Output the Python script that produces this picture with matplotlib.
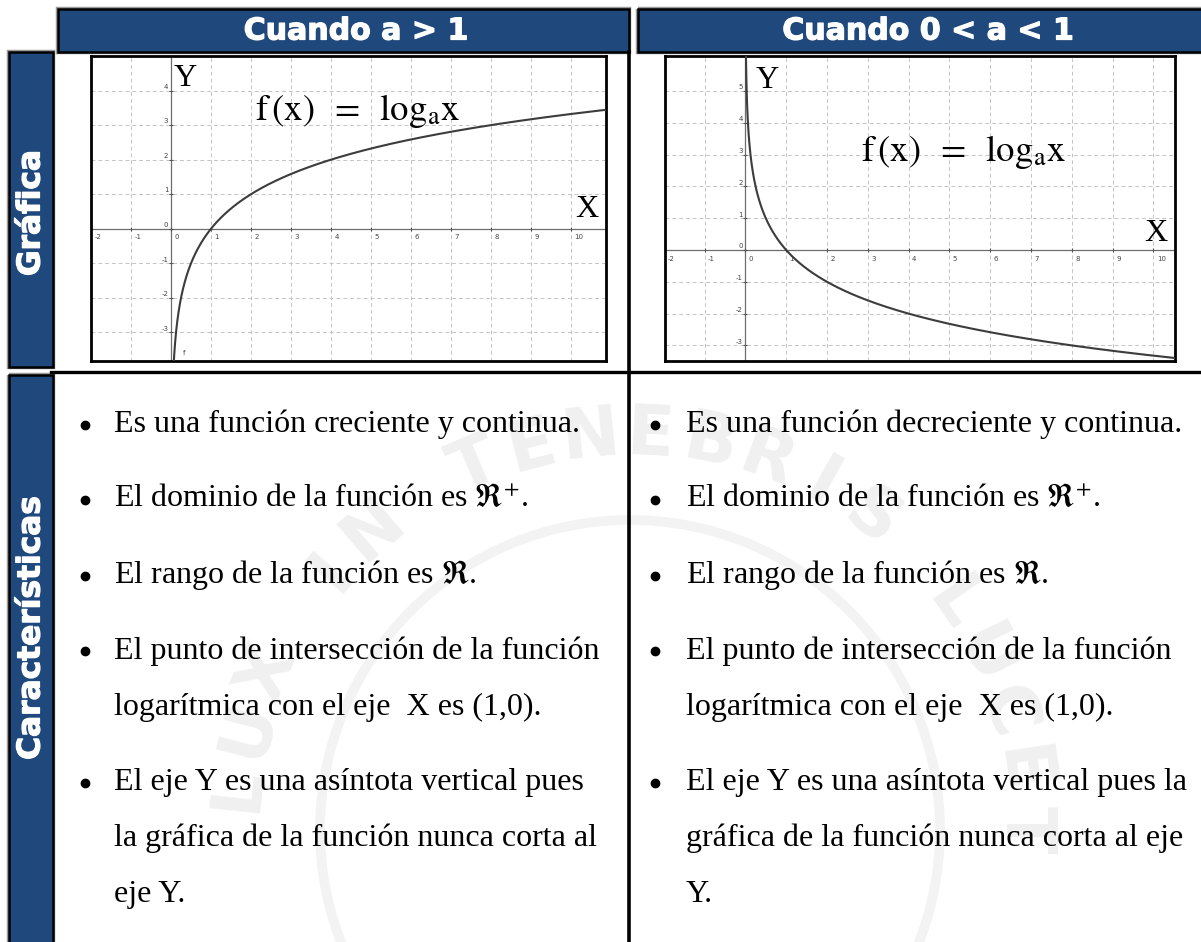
import numpy as np
import matplotlib
matplotlib.use("Agg")
from matplotlib import pyplot as plt
from matplotlib import patches
from matplotlib import patheffects as pe

plt.rcParams['font.family'] = ['Liberation Serif', 'DejaVu Serif']
plt.rcParams['mathtext.fontset'] = 'stix'

W, H = 1201, 942
NAVY = '#1F497D'

# Table text
headers = ['Cuando a > 1', 'Cuando 0 < a < 1']
row_labels = ['Gráfica', 'Características']
motto = 'LUX IN TENEBRIS LUCET'

# Function plots: base of the logarithm and the visible window
bases = [2, 0.5]
x_ticks = list(range(-2, 11))
y_ticks = [list(range(-3, 5)), list(range(-3, 6))]
x_limits = [(-2.0, 10.87), (-1.97, 10.53)]
y_limits = [(-3.83, 5.0), (-3.49, 6.1)]

bullets_left = [
    ["Es una función creciente y continua."],
    [r"El dominio de la función es $\Re^{+}$."],
    [r"El rango de la función es $\Re$."],
    ["El punto de intersección de la función",
     "logarítmica con el eje  X es (1,0)."],
    ["El eje Y es una asíntota vertical pues",
     "la gráfica de la función nunca corta al",
     "eje Y."],
]
bullets_right = [
    ["Es una función decreciente y continua."],
    [r"El dominio de la función es $\Re^{+}$."],
    [r"El rango de la función es $\Re$."],
    ["El punto de intersección de la función",
     "logarítmica con el eje  X es (1,0)."],
    ["El eje Y es una asíntota vertical pues la",
     "gráfica de la función nunca corta al eje",
     "Y."],
]

fig = plt.figure(figsize=(W / 100, H / 100), dpi=100)

# full-figure layer in pixel units for the table frame and the bullet text
bg = fig.add_axes([0, 0, 1, 1], zorder=0)
bg.set_xlim(0, W)
bg.set_ylim(H, 0)
bg.axis('off')

# faint seal behind the lower cells
cx, cy, r = 630, 830, 395
for i, ch in enumerate(motto):
    ang = np.radians(174 - i * 8.7)
    bg.text(cx + r * np.cos(ang), cy - r * np.sin(ang), ch, fontsize=50,
            weight='bold', family='DejaVu Sans', color='#f0f0f0',
            rotation=np.degrees(ang) - 90, ha='center', va='center', zorder=0.5)
bg.add_patch(patches.Circle((cx, cy), 310, fill=False, ec='#f3f3f3', lw=7, zorder=0.5))

heavy = [pe.withStroke(linewidth=0.9, foreground='white')]


def box(x0, y0, x1, y1):
    bg.add_patch(patches.Rectangle((x0, y0), x1 - x0, y1 - y0, fill=False,
                                   ec='#9a9a9a', lw=3.2, zorder=1))
    bg.add_patch(patches.Rectangle((x0, y0), x1 - x0, y1 - y0, fc=NAVY,
                                   ec='black', lw=1.8, zorder=2))


# column headers
box(58, 9, 629, 52)
box(638, 9, 1210, 52)
bg.text(356, 31, headers[0], color='white', fontsize=21.6, weight='bold',
        family='DejaVu Sans', ha='center', va='center', zorder=3, path_effects=heavy)
bg.text(928, 31, headers[1], color='white', fontsize=21.6, weight='bold',
        family='DejaVu Sans', ha='center', va='center', zorder=3, path_effects=heavy)

# row headers
box(9, 52, 53, 367)
box(9, 375, 53, 960)
bg.text(31, 213, row_labels[0], color='white', fontsize=22.5, weight='bold',
        family='DejaVu Sans', rotation=90, ha='center', va='center', zorder=3,
        path_effects=heavy)
bg.text(31, 628, row_labels[1], color='white', fontsize=22.5, weight='bold',
        family='DejaVu Sans', rotation=90, ha='center', va='center', zorder=3,
        path_effects=heavy)

# cell separators
bg.plot([629, 629], [52, H], color='black', lw=2.6, zorder=2)
bg.plot([51, W], [372, 372], color='black', lw=2.4, zorder=2)


def px_axes(x0, y0, x1, y1):
    return fig.add_axes([x0 / W, 1 - y1 / H, (x1 - x0) / W, (y1 - y0) / H], zorder=2)


plot_axes = [px_axes(91, 56, 606, 361), px_axes(665, 56, 1175, 361)]

for k, ax in enumerate(plot_axes):
    ax.set_xlim(*x_limits[k])
    ax.set_ylim(*y_limits[k])
    ax.set_xticks([])
    ax.set_yticks([])
    for sp in ax.spines.values():
        sp.set_linewidth(2.0)
        sp.set_color('black')

    # dashed grid
    for xv in x_ticks:
        if xv != 0:
            ax.axvline(xv, color='#c4c4c4', lw=0.7, dashes=(4, 3), zorder=1)
    for yv in y_ticks[k]:
        if yv != 0:
            ax.axhline(yv, color='#c4c4c4', lw=0.7, dashes=(4, 3), zorder=1)
    ax.axhline(0, color='#6e6e6e', lw=0.9, zorder=2)
    ax.axvline(0, color='#6e6e6e', lw=0.9, zorder=2)

    # small ticks and their labels
    ax.plot(x_ticks, [0] * len(x_ticks), ls='none', marker='|', ms=3,
            mew=0.8, color='#555555', zorder=2)
    ax.plot([0] * len(y_ticks[k]), y_ticks[k], ls='none', marker='_', ms=3,
            mew=0.8, color='#555555', zorder=2)
    for xv in x_ticks:
        ax.annotate(str(xv), (xv, 0), xytext=(2.5, -4), textcoords='offset points',
                    ha='left', va='top', fontsize=5, family='DejaVu Sans',
                    color='#444444', annotation_clip=False, clip_on=True)
    for yv in y_ticks[k]:
        ax.annotate(str(yv), (0, yv), xytext=(-2, 0.5), textcoords='offset points',
                    ha='right', va='bottom', fontsize=5, family='DejaVu Sans',
                    color='#444444')

    # y = log_a(x)
    x = np.linspace(0.005, x_limits[k][1], 2000)
    y = np.log(x) / np.log(bases[k])
    ax.plot(x, y, color='#3c3c3c', lw=1.5, zorder=3)

formula = r'$\mathrm{f}\,\left(\mathrm{x}\right)\;\;=\;\;\mathrm{log}_{\mathrm{a}}\mathrm{x}$'

ax = plot_axes[0]
ax.text(0.07, 4.12, 'Y', fontsize=23, va='baseline', ha='left', zorder=4)
ax.text(10.1, 0.34, 'X', fontsize=23, va='baseline', ha='left', zorder=4)
ax.text(2.1, 3.16, formula, fontsize=26.5, va='baseline', ha='left', zorder=4)
ax.text(0.3, -3.67, 'f', fontsize=5, family='DejaVu Sans', color='#444444',
        va='baseline', ha='left', zorder=4)

ax = plot_axes[1]
ax.text(0.25, 5.09, 'Y', fontsize=23, va='baseline', ha='left', zorder=4)
ax.text(9.77, 0.29, 'X', fontsize=23, va='baseline', ha='left', zorder=4)
ax.text(2.84, 2.8, formula, fontsize=26.5, va='baseline', ha='left', zorder=4)

# bullet lists
for paras, bx, tx in [(bullets_left, 84.5, 114), (bullets_right, 655, 686)]:
    base = 432
    for lines in paras:
        bg.plot([bx], [base - 7.5], marker='o', ms=6, color='black', zorder=3)
        for line in lines:
            bg.text(tx, base, line, fontsize=23, va='baseline', ha='left', zorder=3)
            base += 56
        base += 19.5

fig.savefig('out.png', dpi=100)
